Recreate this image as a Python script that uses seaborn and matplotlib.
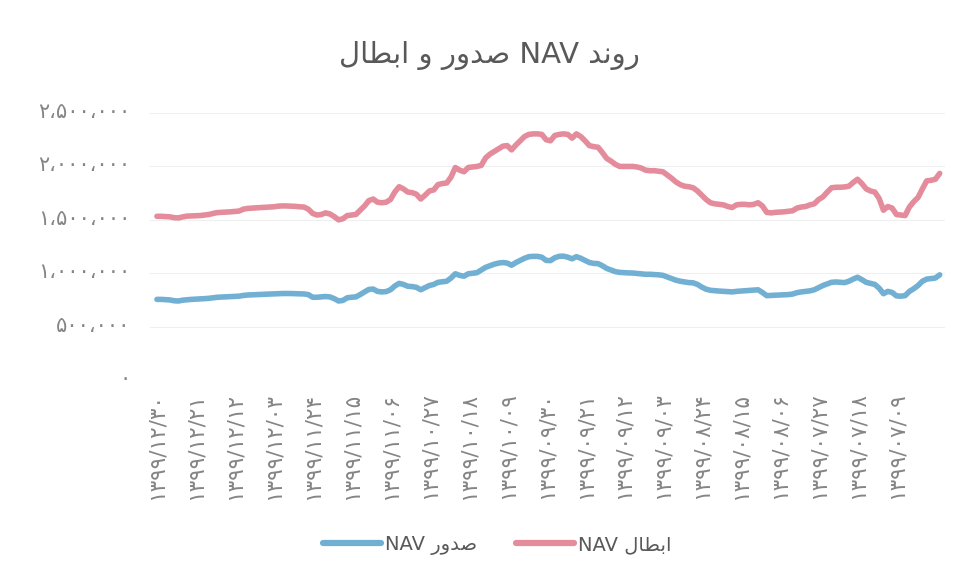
import matplotlib
matplotlib.use("Agg")
import matplotlib.pyplot as plt
import matplotlib.transforms as mtransforms
import seaborn as sns
import pandas as pd
import numpy as np

# ---------------- data (values in thousands of rials) ----------------
# day 0 = 1399/12/30, going back one day per point
ebtal_nav = [
    1533, 1533, 1530, 1528, 1520, 1518, 1528, 1535, 1537, 1538,
    1540, 1545, 1550, 1560, 1568, 1570, 1572, 1575, 1578, 1582,
    1600, 1607, 1610, 1612, 1615, 1617, 1620, 1622, 1628, 1630,
    1630, 1628, 1626, 1622, 1620, 1600, 1560, 1545, 1550, 1565,
    1555, 1530, 1500, 1510, 1540, 1545, 1550, 1590, 1630, 1680,
    1695, 1665, 1660, 1665, 1690, 1760, 1810, 1790, 1760, 1755,
    1740, 1695, 1730, 1770, 1780, 1830, 1840, 1845, 1900, 1990,
    1965, 1950, 1990, 1995, 2000, 2010, 2080, 2115, 2140, 2165,
    2190, 2195, 2155, 2200, 2240, 2280, 2300, 2305, 2305, 2300,
    2250, 2240, 2290, 2300, 2305, 2300, 2265, 2305, 2280, 2240,
    2195, 2185, 2180, 2130, 2075, 2050, 2020, 2000, 2000, 2000,
    2000, 1995, 1985, 1965, 1960, 1960, 1955, 1950, 1920, 1890,
    1855, 1830, 1815, 1810, 1800, 1770, 1730, 1690, 1660, 1650,
    1645, 1640, 1625, 1615, 1640, 1645, 1645, 1640, 1645, 1660,
    1630, 1570, 1565, 1570, 1572, 1575, 1580, 1585, 1610, 1620,
    1625, 1640, 1650, 1690, 1715, 1760, 1800, 1805, 1805, 1808,
    1815, 1850, 1880, 1840, 1790, 1770, 1760, 1700, 1590, 1625,
    1610, 1550, 1545, 1540, 1620, 1670, 1710, 1790, 1865, 1870,
    1880, 1935,
]
sodur_nav = [
    755, 755, 752, 750, 742, 740, 748, 752, 755, 757,
    760, 762, 765, 770, 775, 777, 778, 780, 782, 785,
    792, 796, 798, 800, 802, 803, 805, 806, 808, 810,
    810, 810, 808, 807, 806, 800, 775, 775, 778, 782,
    778, 762, 740, 745, 770, 775, 778, 800, 825, 848,
    852, 830, 825, 828, 845, 880, 905, 895, 878, 875,
    868, 845, 865, 885, 895, 915, 920, 925, 955, 995,
    980, 972, 995, 1000, 1005, 1030, 1055, 1070, 1085, 1095,
    1100, 1095, 1075, 1100, 1120, 1140, 1155, 1158, 1158, 1150,
    1120, 1118, 1145, 1158, 1160, 1150, 1135, 1155, 1140, 1120,
    1100, 1092, 1090, 1070, 1045, 1030, 1015, 1008, 1005, 1003,
    1002, 998, 995, 990, 990, 988, 985, 980, 965, 950,
    935, 925, 918, 912, 910, 895, 870, 850, 840, 836,
    833, 830, 826, 825, 830, 833, 835, 838, 842, 845,
    820, 790, 792, 794, 795, 797, 800, 805, 818, 825,
    830, 835, 845, 865, 885, 900, 915, 918, 915, 912,
    925, 945, 962, 940, 915, 905, 895, 860, 808, 830,
    820, 788, 785, 790, 830, 855, 885, 925, 945, 950,
    955, 985,
]
y_ticks = [0, 500000, 1000000, 1500000, 2000000, 2500000]
tick_step = 9      # one date label every 9 days
n_labels = 20      # number of date labels shown

# ---------------- text (Arabic script, visual order, presentation forms) ----------------
W_ROND = "\uFEAA\uFEE7\uFEED\uFEAD"          # روند
W_SODUR = "\uFEAD\uFEED\uFEAA\uFEBB"         # صدور
W_VA = "\uFEED"                              # و
W_EBTAL = "\uFEDD\uFE8E\uFEC4\uFE91\uFE8D"   # ابطال
title_text = f"{W_EBTAL} {W_VA} {W_SODUR} NAV {W_ROND}"
label_sodur = f"NAV {W_SODUR}"
label_ebtal = f"NAV {W_EBTAL}"

FA = str.maketrans("0123456789", "۰۱۲۳۴۵۶۷۸۹")

# Jalali dates going backwards from 1399/12/30
month_len = {1: 31, 2: 31, 3: 31, 4: 31, 5: 31, 6: 31,
             7: 30, 8: 30, 9: 30, 10: 30, 11: 30, 12: 30}
n = len(ebtal_nav)
dates = []
y, m, d = 1399, 12, 30
for _ in range(n):
    dates.append(f"{y}/{m:02d}/{d:02d}".translate(FA))
    d -= 1
    if d == 0:
        m -= 1
        d = month_len[m]

days = np.arange(n)
df = pd.DataFrame({
    "day": np.concatenate([days, days]),
    "value": np.array(sodur_nav + ebtal_nav) * 1000,
    "series": ["sodur"] * n + ["ebtal"] * n,
})

# ---------------- plot ----------------
sns.set_theme(style="white")
plt.rcParams["font.family"] = ["DejaVu Sans"]

fig = plt.figure(figsize=(9.6, 5.8), dpi=100)
ax = fig.add_axes([0.15625, 0.3448, 0.828, 0.4603])

palette = {"sodur": "#72B0D3", "ebtal": "#E48C9C"}
sns.lineplot(data=df, x="day", y="value", hue="series", hue_order=["sodur", "ebtal"],
             palette=palette, linewidth=4.0, ax=ax, legend=True,
             solid_capstyle="round", solid_joinstyle="round")

handles, _ = ax.get_legend_handles_labels()
ax.get_legend().remove()

ax.set_xlim(-1.6, n + 0.2)
ax.set_ylim(0, 2500000)
ax.set_yticks(y_ticks)
ax.set_yticklabels([f"{v:,}".replace(",", "،").translate(FA) for v in y_ticks])
tick_idx = days[::tick_step][:n_labels]
ax.set_xticks(tick_idx)
ax.set_xticklabels([dates[i] for i in tick_idx], rotation=90)
ax.set_xlabel("")
ax.set_ylabel("")
ax.grid(axis="y", color="#efefef", linewidth=0.8)
ax.grid(axis="x", visible=False)
for s in ax.spines.values():
    s.set_visible(False)
ax.tick_params(axis="y", length=0, pad=14, labelsize=15, labelcolor="#858585")
ax.tick_params(axis="x", length=0, pad=9, labelsize=15.5, labelcolor="#858585")

shift_up = mtransforms.ScaledTranslation(0, 3 / 100, fig.dpi_scale_trans)
for lab in ax.get_yticklabels():
    lab.set_transform(lab.get_transform() + shift_up)

fig.text(0.51, 1 - 55 / 580, title_text, ha="center", va="center",
         fontsize=21, color="#595959")

for h in handles:
    h.set_linewidth(4.5)
    h.set_solid_capstyle("round")
fig.legend(handles, [label_sodur, label_ebtal], loc="center",
           bbox_to_anchor=(0.518, 1 - 545 / 580), ncol=2, frameon=False,
           fontsize=14, handlelength=3.0, columnspacing=2.0, handletextpad=0.2,
           labelcolor="#595959")

fig.savefig("out.png", dpi=100, facecolor="white")
